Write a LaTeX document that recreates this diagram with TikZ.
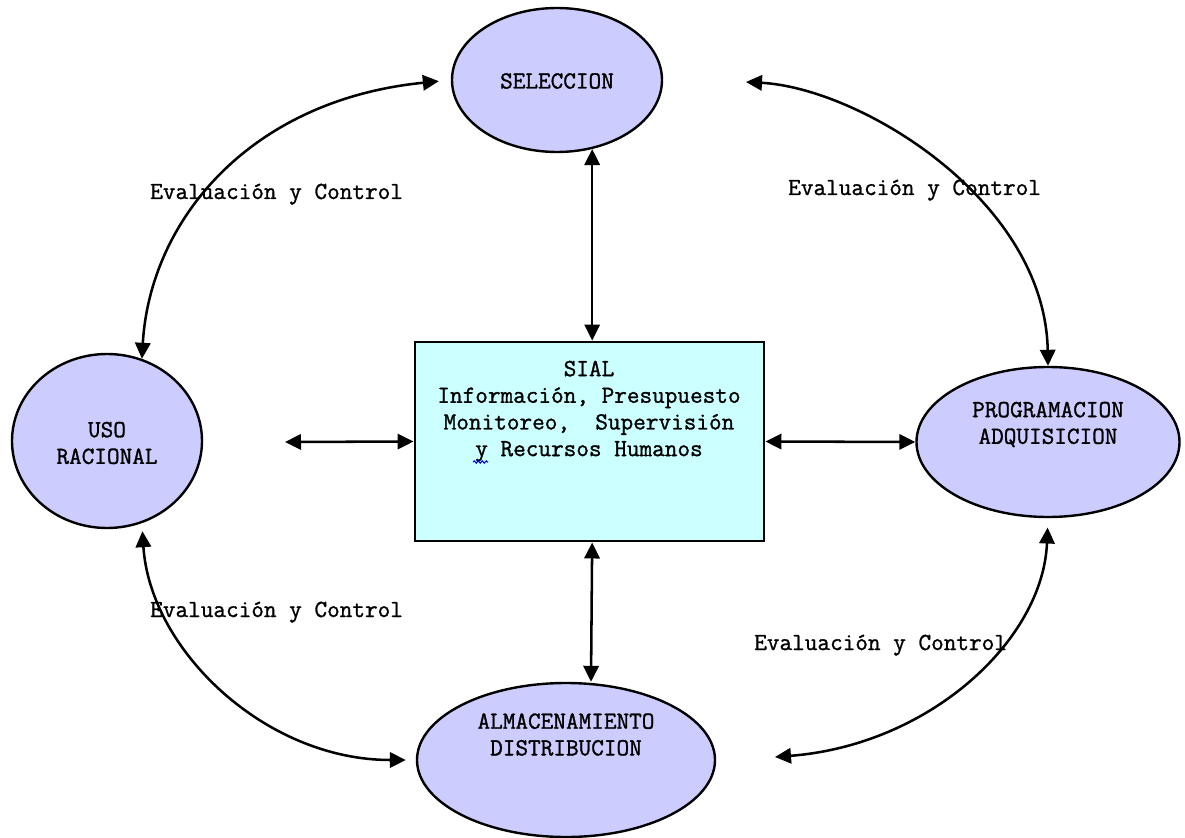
\documentclass[tikz,border=0pt]{standalone}
\usepackage{fontspec}
\newfontfamily\typew{Latin Modern Mono}[FakeBold=1.2]
\usetikzlibrary{arrows.meta,decorations.pathmorphing,shapes.geometric}
\definecolor{ovalfill}{RGB}{204,204,255}
\definecolor{boxfill}{RGB}{204,255,255}
\definecolor{spellblue}{RGB}{0,0,230}
\begin{document}
\begin{tikzpicture}[x=0.75pt,y=-0.75pt,
  every node/.style={font=\typew\fontsize{18.4}{20}\selectfont},
  oval/.style={ellipse, draw, line width=1.8pt, fill=ovalfill, inner sep=0pt},
  sialbox/.style={rectangle, draw, line width=2.2pt, fill=boxfill, inner sep=0pt,
    minimum width=261.75pt, minimum height=149.25pt},
  txt/.style={inner sep=0pt, align=center},
  evlabel/.style={inner sep=0pt, anchor=base west},
  link/.style={line width=1.9pt, {Triangle[length=12pt,width=11.5pt]}-{Triangle[length=12pt,width=11.5pt]}}
]
\useasboundingbox (0,0) rectangle (1185,838);

% four process ovals and the central system box
\node[oval, minimum width=157.5pt, minimum height=108pt] (sel) at (557,80) {};
\node[oval, minimum width=142.5pt, minimum height=130.5pt] (uso) at (107,441) {};
\node[oval, minimum width=197.25pt, minimum height=112.5pt] (prog) at (1048,442) {};
\node[oval, minimum width=223.5pt, minimum height=115.5pt] (alm) at (566,760) {};
\node[sialbox] (sial) at (589.5,441.5) {};

% captions inside the shapes
\node[txt] (seltxt) at (557,81) {SELECCION};
\node[txt] (usotxt) at (107,443) {USO\\RACIONAL};
\node[txt] (progtxt) at (1048,424.5) {PROGRAMACION\\ADQUISICION};
\node[txt] (almtxt) at (566,734.5) {ALMACENAMIENTO\\DISTRIBUCION};
\node[txt, anchor=north] (sialtxt) at (589,360.5)
  {SIAL\\Información, Presupuesto\\Monitoreo,\ \ Supervisión\\y Recursos Humanos};

% spell-check squiggle under the lone "y"
\draw[spellblue, line width=0.8pt, decorate,
  decoration={snake, segment length=3pt, amplitude=0.9pt}] (473,462) -- (488,462);

% cycle labels
\node[evlabel] (ev1) at (150,199) {Evaluación y Control};
\node[evlabel] (ev2) at (788,195) {Evaluación y Control};
\node[evlabel] (ev3) at (150,617) {Evaluación y Control};
\node[evlabel] (ev4) at (754,650) {Evaluación y Control};

% free ends of connectors
\coordinate (lfree) at (285,442);
\coordinate (trfree) at (746,82);
\coordinate (brfree) at (775,757);

% straight links to the central box
\draw[link] (sel.-63) -- (sel.-63 |- sial.north);
\draw[link] ([xshift=2pt]sial.south) -- ([xshift=18.75pt]alm.north);
\draw[link] (lfree) -- (sial.west);
\draw[link] (sial.east) -- (prog.west);

% curved evaluation loops
\draw[link, shorten >=9pt] (uso.67) .. controls (150,220) and (250,100) .. (sel.west);
\draw[link] (trfree) .. controls (860,88) and (1045,200) .. (prog.north);
\draw[link, shorten <=7pt] (prog.south) .. controls (1043,640) and (930,745) .. (brfree);
\draw[link, shorten <=6pt, shorten >=7.5pt] (uso.-67) .. controls (150,650) and (265,760) .. (alm.west);
\end{tikzpicture}
\end{document}
